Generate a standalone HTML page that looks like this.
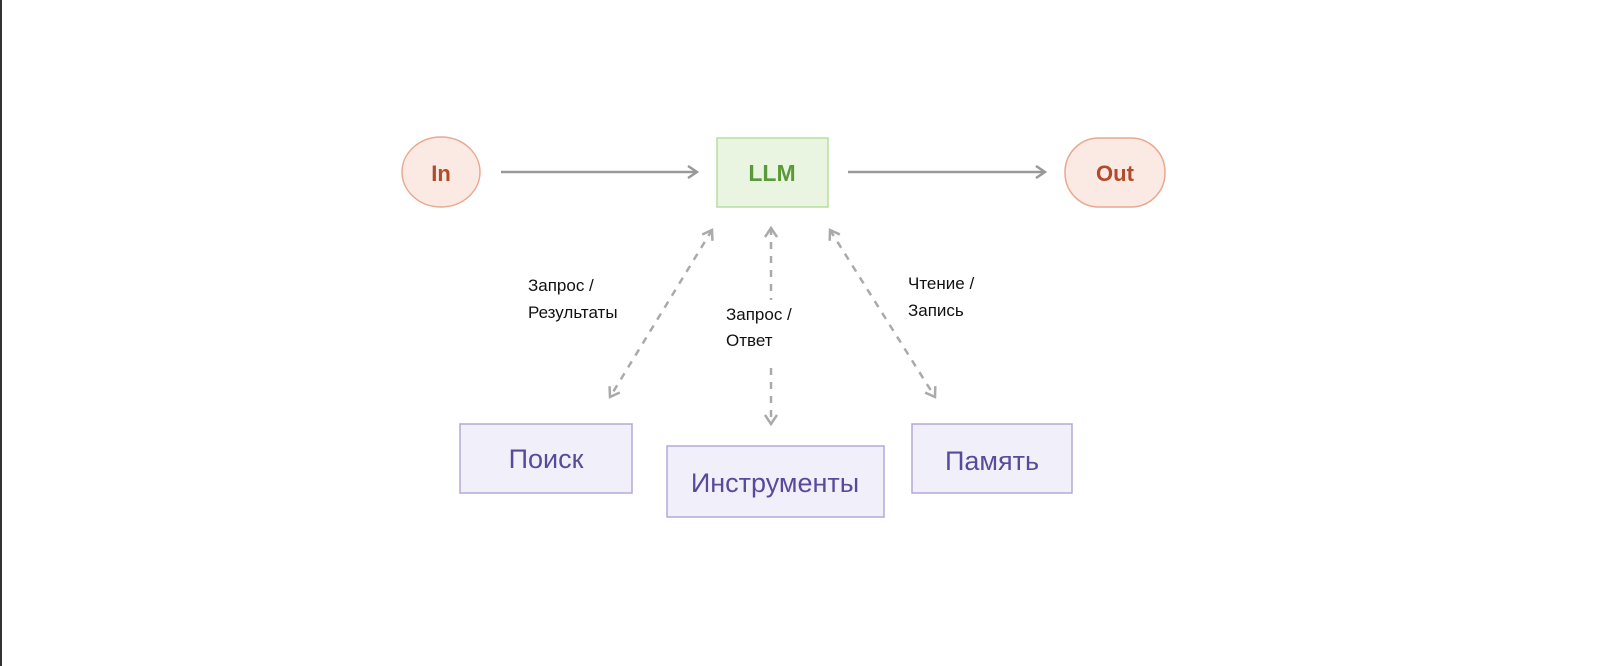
<!DOCTYPE html>
<html><head><meta charset="utf-8"><style>
body{margin:0;background:#fff}
svg{display:block}
text{font-family:"Liberation Sans",sans-serif}
</style></head><body>
<svg width="1600" height="666" viewBox="0 0 1600 666">
<rect x="0" y="0" width="1600" height="666" fill="#fff"/>
<rect x="0" y="0" width="2" height="666" fill="#333"/>
<defs>
<marker id="a" markerWidth="12" markerHeight="14" refX="10" refY="7" orient="auto" markerUnits="userSpaceOnUse">
<path d="M1,1 L10,7 L1,13" fill="none" stroke="#999" stroke-width="2.5"/></marker>
<marker id="b" markerWidth="12" markerHeight="14" refX="10" refY="7" orient="auto-start-reverse" markerUnits="userSpaceOnUse">
<path d="M1,1 L10,7 L1,13" fill="none" stroke="#aaa" stroke-width="2.5"/></marker>
</defs>
<ellipse cx="441" cy="172" rx="39" ry="35" fill="#fbe9e3" stroke="#e9a88f" stroke-width="1.5"/>
<text x="441" y="181" text-anchor="middle" font-size="22" font-weight="bold" fill="#b34a2a">In</text>
<rect x="1065" y="138" width="100" height="69" rx="34" fill="#fbe9e3" stroke="#e9a88f" stroke-width="1.5"/>
<text x="1115" y="181" text-anchor="middle" font-size="22" font-weight="bold" fill="#b34a2a">Out</text>
<rect x="717" y="138" width="111" height="69" fill="#e9f5e1" stroke="#b6dea0" stroke-width="1.5"/>
<text x="772" y="181" text-anchor="middle" font-size="23" font-weight="bold" fill="#5a9a3a">LLM</text>
<line x1="501" y1="172" x2="697" y2="172" stroke="#999" stroke-width="2.5" marker-end="url(#a)"/>
<line x1="848" y1="172" x2="1045" y2="172" stroke="#999" stroke-width="2.5" marker-end="url(#a)"/>
<g stroke="#aaa" stroke-width="2.5" stroke-dasharray="7,7" fill="none">
<line x1="712" y1="230" x2="610" y2="397" marker-start="url(#b)" marker-end="url(#b)"/>
<line x1="830" y1="230" x2="935" y2="397" marker-start="url(#b)" marker-end="url(#b)"/>
<line x1="771" y1="228" x2="771" y2="300" marker-start="url(#b)"/>
<line x1="771" y1="368" x2="771" y2="424" marker-end="url(#b)"/>
</g>
<g font-size="17" fill="#111">
<text x="528" y="291">Запрос /</text>
<text x="528" y="318">Результаты</text>
<text x="726" y="320">Запрос /</text>
<text x="726" y="346">Ответ</text>
<text x="908" y="289">Чтение /</text>
<text x="908" y="316">Запись</text>
</g>
<g fill="#f1effa" stroke="#b6a8d8" stroke-width="1.5">
<rect x="460" y="424" width="172" height="69"/>
<rect x="667" y="446" width="217" height="71"/>
<rect x="912" y="424" width="160" height="69"/>
</g>
<g font-size="27" fill="#5a4a9a" text-anchor="middle">
<text x="546" y="468">Поиск</text>
<text x="775" y="492">Инструменты</text>
<text x="992" y="470">Память</text>
</g>
</svg>
</body></html>
